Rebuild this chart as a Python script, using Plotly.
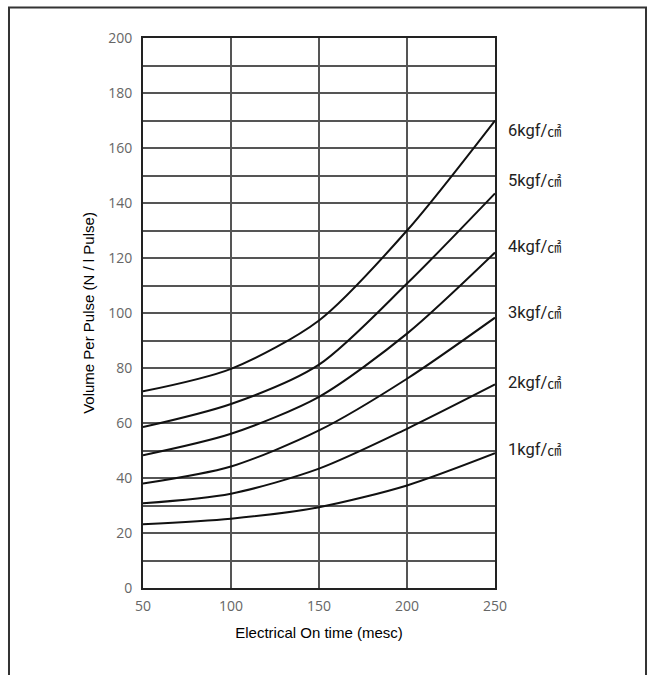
import plotly.graph_objects as go

x_vals = [50, 100, 150, 200, 250]
series_names = ["6kgf/㎠", "5kgf/㎠", "4kgf/㎠", "3kgf/㎠", "2kgf/㎠", "1kgf/㎠"]
s6 = [71.5, 79.7, 97.3, 130.0, 170.0]
s5 = [58.5, 66.9, 81.2, 110.7, 143.5]
s4 = [48.3, 56.1, 69.5, 92.5, 122.0]
s3 = [38.0, 44.2, 57.3, 76.1, 98.3]
s2 = [30.8, 34.3, 43.4, 57.9, 74.0]
s1 = [23.2, 25.2, 29.4, 37.3, 49.0]
series_values = [s6, s5, s4, s3, s2, s1]
label_y = [166.5, 148.5, 124.3, 100.3, 74.9, 50.5]

x_ticks = [50, 100, 150, 200, 250]
y_ticks = [0, 20, 40, 60, 80, 100, 120, 140, 160, 180, 200]

fig = go.Figure()
for name, vals in zip(series_names, series_values):
    fig.add_trace(go.Scatter(x=x_vals, y=vals, mode="lines", name=name,
                             line=dict(color="#111111", width=2, shape="spline", smoothing=0.8),
                             showlegend=False, hoverinfo="x+y"))

for name, ly in zip(series_names, label_y):
    num, unit = name.split("/")
    fig.add_annotation(x=1.03, xref="paper", y=ly, yref="y", xanchor="left", yanchor="middle",
                       text=f"{num}/<span style='font-size:14px;font-family:Noto Sans CJK JP'>{unit}</span>",
                       showarrow=False,
                       font=dict(family="Liberation Sans Narrow, Roboto, sans-serif", size=16.5, color="#222222"))

# outer frame (top, left, right)
fig.add_shape(type="path", xref="paper", yref="paper",
              path="M -0.3807,-0.2 L -0.3807,1.0555 L 1.429,1.0555 L 1.429,-0.2",
              line=dict(color="#333333", width=2))

fig.update_layout(
    width=648, height=675,
    margin=dict(l=143, r=153, t=38, b=87),
    paper_bgcolor="white", plot_bgcolor="white",
    font=dict(family="Liberation Sans, Arial, sans-serif", color="#000000"),
    xaxis=dict(range=[50, 250], tickvals=x_ticks, showgrid=True, gridcolor="#555555", gridwidth=1.5,
               zeroline=False, showline=True, linecolor="#222222", linewidth=2, mirror=True,
               ticks="", ticklabelstandoff=4,
               tickfont=dict(family="Open Sans, sans-serif", size=14, color="#666666"),
               title=dict(text="Electrical On time (mesc)", font=dict(size=15, color="#000000"), standoff=14)),
    yaxis=dict(range=[0, 200], tickvals=y_ticks, showgrid=True, gridcolor="#555555", gridwidth=1.5,
               zeroline=False, showline=True, linecolor="#222222", linewidth=2, mirror=True,
               ticks="", ticklabelstandoff=6,
               tickfont=dict(family="Open Sans, sans-serif", size=14, color="#666666"),
               minor=dict(tickvals=list(range(10, 200, 20)), showgrid=True, gridcolor="#555555", gridwidth=1.5),
               title=dict(text="Volume Per Pulse (N / l Pulse)", font=dict(size=15, color="#000000"), standoff=10)),
)

fig.write_html("out.html", config={"displayModeBar": False},
               post_script="document.body.style.margin='0';document.body.style.overflow='hidden';")
